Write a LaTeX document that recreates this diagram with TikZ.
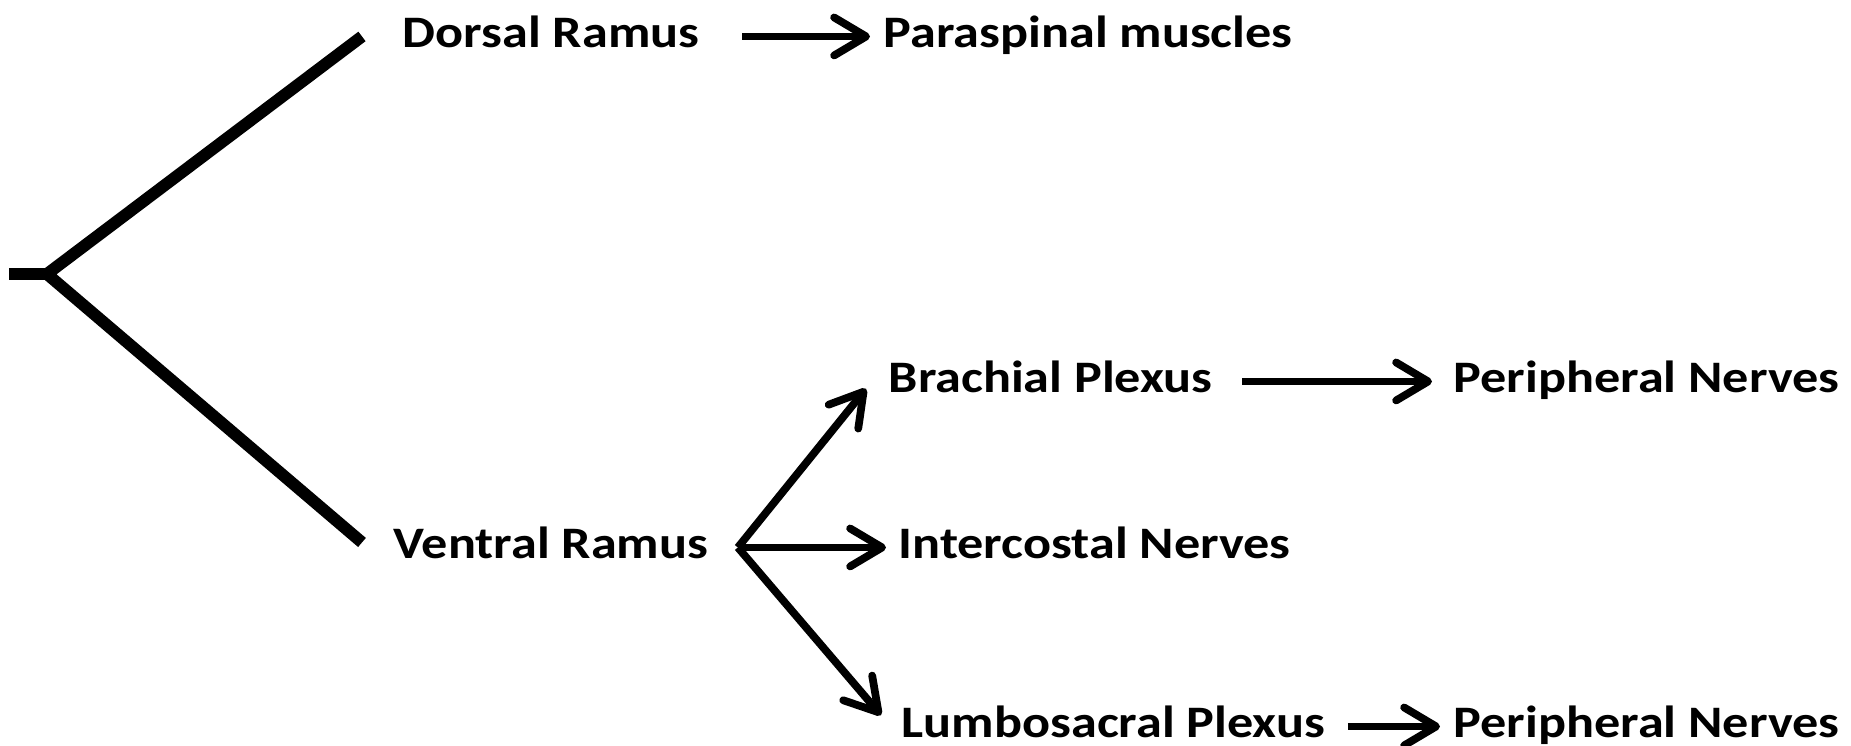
\documentclass[tikz,border=0pt]{standalone}
\usepackage{fontspec}
\setmainfont{Carlito}[FakeStretch=1.16]
\usetikzlibrary{arrows.meta}

\begin{document}
\begin{tikzpicture}[x=0.01cm, y=-0.01cm,
  font=\fontsize{12.8pt}{15pt}\selectfont\bfseries,
  lbl/.style={anchor=base west, inner sep=0pt, text height=6pt, text depth=0pt},
  trunk/.style={line width=3.4pt},
  arr/.style={-{Straight Barb[length=3.2mm, width=3.8mm, round]}, line width=2.2pt}]
  \useasboundingbox (0,0) rectangle (1851,745);
  % labels
  \node[lbl] (dorsal)  at (402,47)   {Dorsal Ramus};
  \node[lbl] (para)    at (883,47)   {Paraspinal muscles};
  \node[lbl] (ventral) at (393,558)  {Ventral Ramus};
  \node[lbl] (brach)   at (888,392)  {Brachial Plexus};
  \node[lbl] (inter)   at (898,558)  {Intercostal Nerves};
  \node[lbl] (lumbo)   at (901,737)  {Lumbosacral Plexus};
  \node[lbl] (perup)   at (1453,392) {Peripheral Nerves};
  \node[lbl] (perlow)  at (1453,737) {Peripheral Nerves};
  % spinal nerve trunk
  \coordinate (stub) at (9,274);
  \coordinate (root) at (47,274);
  \draw[trunk] (stub) -- (root);
  \draw[trunk] ([xshift=-4mm]dorsal.west) -- (root) -- ([shift={(-3.1mm,0.5mm)}]ventral.west);
  % branches
  \coordinate (fork) at ([xshift=2.9mm]ventral.east);
  \draw[arr, shorten <=4.2mm, shorten >=1.3mm] (dorsal.east) -- (para.west);
  \draw[arr] (fork) -- ([shift={(-2.2mm,0.4mm)}]brach.south west);
  \draw[arr, shorten >=1.2mm] (fork) -- (inter.west);
  \draw[arr] (fork) -- ([xshift=-2mm]lumbo.north west);
  \draw[arr, shorten <=2.9mm, shorten >=2.1mm] (brach.east) -- (perup.west);
  \draw[arr, shorten <=2.2mm, shorten >=1.3mm] (lumbo.east) -- (perlow.west);
\end{tikzpicture}
\end{document}
